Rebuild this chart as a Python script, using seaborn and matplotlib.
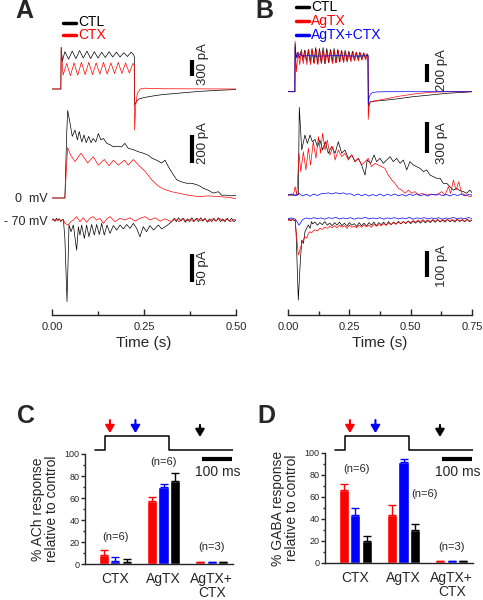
import numpy as np
import pandas as pd
import matplotlib
matplotlib.use("Agg")
import matplotlib.pyplot as plt
from matplotlib.lines import Line2D
import seaborn as sns

sns.set_style("ticks")
plt.rcParams['font.family'] = ['Liberation Sans', 'DejaVu Sans']
plt.rcParams['axes.linewidth'] = 1.0

RED, BLUE, BLACK = '#ff0000', '#0000ff', '#000000'
W, H = 483, 600

# ---------------- traces (time in s, current in pA) ----------------
# panel A, top row
a_top_ctl = [(0, 0), (0.024, 0), (0.025, 780), (0.028, 520), (0.035, 700), (0.045, 560), (0.055, 710),
             (0.065, 570), (0.075, 720), (0.085, 580), (0.095, 710), (0.105, 570), (0.115, 700),
             (0.125, 580), (0.135, 690), (0.145, 590), (0.155, 700), (0.165, 600), (0.175, 690),
             (0.185, 600), (0.195, 680), (0.205, 610), (0.215, 690), (0.222, 640), (0.2238, 600),
             (0.2245, -300), (0.228, -250), (0.235, -190), (0.250, -160), (0.275, -130), (0.300, -105),
             (0.350, -75), (0.400, -45), (0.450, -25), (0.500, -10)]
a_top_ctx = [(0, 0), (0.024, 0), (0.025, 780), (0.030, 260), (0.040, 480), (0.050, 250), (0.060, 490),
             (0.070, 260), (0.080, 500), (0.090, 270), (0.100, 500), (0.110, 270), (0.120, 490),
             (0.130, 280), (0.140, 500), (0.150, 280), (0.160, 490), (0.170, 290), (0.180, 500),
             (0.190, 290), (0.200, 490), (0.210, 300), (0.220, 480), (0.2235, 450), (0.2245, -770),
             (0.2275, -300), (0.232, -80), (0.240, 0), (0.250, 15), (0.300, 5), (0.500, 0)]
# panel A, 0 mV row
a_mid_ctl = [(0, 0), (0.035, 0), (0.040, 460), (0.0426, 625), (0.049, 535), (0.055, 440), (0.0625, 485),
             (0.069, 415), (0.074, 475), (0.081, 400), (0.087, 450), (0.093, 395), (0.0997, 440),
             (0.106, 395), (0.112, 425), (0.119, 400), (0.126, 460), (0.133, 415), (0.140, 425),
             (0.149, 390), (0.158, 380), (0.167, 365), (0.176, 370), (0.189, 365), (0.198, 390),
             (0.207, 355), (0.221, 345), (0.235, 330), (0.248, 320), (0.262, 305), (0.271, 285),
             (0.284, 270), (0.298, 250), (0.307, 270), (0.316, 225), (0.330, 165), (0.339, 130),
             (0.352, 115), (0.366, 105), (0.380, 105), (0.393, 95), (0.402, 85), (0.411, 70),
             (0.425, 55), (0.438, 35), (0.452, 45), (0.461, 20), (0.475, 20), (0.488, 15), (0.500, 20)]
a_mid_ctx = [(0, 0), (0.035, 0), (0.040, 250), (0.0426, 360), (0.050, 310), (0.0625, 260), (0.079, 320),
             (0.097, 250), (0.112, 295), (0.126, 235), (0.142, 275), (0.155, 230), (0.167, 270),
             (0.180, 235), (0.197, 270), (0.207, 235), (0.221, 275), (0.235, 235), (0.253, 190),
             (0.271, 130), (0.289, 85), (0.307, 60), (0.325, 45), (0.343, 35), (0.370, 20),
             (0.398, 10), (0.425, 15), (0.452, 10), (0.479, 5), (0.500, -5)]
# panel A, -70 mV row
a_bot_ctl = [(0, 0), (0.004, 2), (0.008, -2), (0.012, 3), (0.016, -1), (0.020, 2), (0.024, -3), (0.028, 1),
             (0.031, 0), (0.035, -33), (0.0408, -146), (0.0462, -9), (0.0516, -21), (0.058, -9),
             (0.067, -54), (0.0716, -12), (0.076, -27), (0.0806, -9), (0.088, -33), (0.094, -9),
             (0.1005, -30), (0.1078, -8), (0.115, -27), (0.1214, -8), (0.1286, -26), (0.135, -6),
             (0.142, -27), (0.1495, -9), (0.1576, -24), (0.1667, -10), (0.176, -18), (0.185, -9),
             (0.194, -16), (0.203, -8), (0.212, -15), (0.221, -6), (0.230, -15), (0.239, -30),
             (0.248, -12), (0.257, -21), (0.266, -10), (0.276, -18), (0.289, -9), (0.298, -16),
             (0.312, -10), (0.325, -3), (0.332, 3), (0.338, -3), (0.344, 4), (0.350, -2), (0.356, 3),
             (0.362, -4), (0.368, 2), (0.374, -3), (0.380, 4), (0.386, -2), (0.392, 3), (0.398, -3),
             (0.404, 4), (0.410, -2), (0.416, 3), (0.422, -4), (0.428, 2), (0.434, -3), (0.440, 3),
             (0.446, -2), (0.452, 4), (0.458, -3), (0.464, 2), (0.470, -3), (0.476, 3), (0.482, -2),
             (0.488, 3), (0.494, -3), (0.500, 0)]
a_bot_ctx = [(0, 1), (0.008, -2), (0.017, 2), (0.024, -1), (0.031, 1), (0.035, -6), (0.044, -9),
             (0.051, -3), (0.058, 0), (0.067, 6), (0.076, -3), (0.085, 4), (0.094, -4), (0.103, 3),
             (0.112, 6), (0.121, 0), (0.130, 3), (0.140, -6), (0.149, 2), (0.158, 6), (0.171, -3),
             (0.185, 3), (0.198, 0), (0.212, 4), (0.226, -2), (0.239, 3), (0.253, 6), (0.266, 0),
             (0.280, 4), (0.294, -2), (0.307, 2), (0.325, -3), (0.335, 2), (0.345, -3), (0.355, 3),
             (0.365, -2), (0.375, 2), (0.385, -3), (0.395, 3), (0.405, -1), (0.415, 2), (0.425, -3),
             (0.435, 2), (0.445, -2), (0.455, 3), (0.465, -2), (0.475, 2), (0.485, -3), (0.495, 1),
             (0.500, 0)]

# panel B, top row
b_top_ctl = [(0, 0), (0.028, 0), (0.029, 535), (0.033, 380), (0.040, 440), (0.046, 370), (0.053, 450),
             (0.060, 350), (0.068, 460), (0.075, 340), (0.083, 470), (0.090, 330), (0.098, 480),
             (0.105, 320), (0.113, 490), (0.120, 310), (0.128, 480), (0.135, 320), (0.143, 490),
             (0.150, 310), (0.158, 480), (0.165, 320), (0.173, 470), (0.180, 330), (0.188, 480),
             (0.195, 320), (0.203, 470), (0.210, 330), (0.218, 460), (0.225, 340), (0.233, 460),
             (0.240, 340), (0.248, 450), (0.255, 350), (0.263, 450), (0.270, 350), (0.278, 440),
             (0.285, 360), (0.293, 440), (0.300, 360), (0.308, 430), (0.315, 370), (0.322, 420),
             (0.326, 400), (0.328, -170), (0.334, -115), (0.350, -105), (0.375, -100), (0.410, -90),
             (0.443, -80), (0.511, -55), (0.579, -37), (0.647, -18), (0.715, -7), (0.750, 0)]
b_top_agtx = [(0, 0), (0.028, 0), (0.029, 560), (0.034, 220), (0.041, 440), (0.048, 300), (0.055, 470),
              (0.062, 310), (0.070, 460), (0.077, 300), (0.085, 470), (0.092, 300), (0.100, 460),
              (0.107, 310), (0.115, 470), (0.122, 300), (0.130, 460), (0.137, 310), (0.145, 470),
              (0.152, 310), (0.160, 460), (0.167, 320), (0.175, 460), (0.182, 310), (0.190, 450),
              (0.197, 320), (0.205, 460), (0.212, 330), (0.220, 450), (0.227, 320), (0.235, 450),
              (0.242, 330), (0.250, 440), (0.257, 330), (0.265, 450), (0.272, 340), (0.280, 440),
              (0.287, 340), (0.295, 430), (0.302, 350), (0.310, 430), (0.317, 350), (0.324, 420),
              (0.326, 400), (0.327, -307), (0.331, -150), (0.336, -111), (0.375, -92), (0.443, -55),
              (0.511, -26), (0.579, -7), (0.647, 0), (0.750, 0)]
b_top_both = [(0, 0), (0.028, 0), (0.029, 500), (0.034, 380), (0.045, 420), (0.060, 395), (0.080, 400),
              (0.120, 395), (0.200, 400), (0.280, 395), (0.326, 400), (0.327, -130), (0.331, -60),
              (0.337, -25), (0.345, -10), (0.360, -3), (0.400, 0), (0.750, 0)]
# panel B, 0 mV row
b_mid_ctl = [(0, 0), (0.042, 0), (0.046, 830), (0.056, 426), (0.069, 568), (0.079, 489), (0.090, 568),
             (0.099, 505), (0.110, 527), (0.120, 458), (0.130, 521), (0.141, 426), (0.152, 505),
             (0.164, 395), (0.178, 458), (0.192, 395), (0.205, 505), (0.219, 395), (0.232, 426),
             (0.246, 347), (0.260, 379), (0.273, 316), (0.287, 347), (0.300, 284), (0.314, 189),
             (0.323, 331), (0.337, 300), (0.351, 379), (0.361, 316), (0.375, 347), (0.389, 300),
             (0.402, 331), (0.416, 363), (0.429, 316), (0.443, 347), (0.457, 300), (0.470, 331),
             (0.484, 237), (0.497, 316), (0.511, 284), (0.525, 268), (0.538, 253), (0.552, 221),
             (0.565, 237), (0.579, 189), (0.592, 174), (0.606, 158), (0.620, 158), (0.633, 110),
             (0.647, 110), (0.660, 79), (0.674, 47), (0.688, 63), (0.701, 41), (0.715, 32),
             (0.728, 16), (0.742, 47), (0.750, 20)]
b_mid_agtx = [(0, 0), (0.022, 0), (0.029, 79), (0.036, 0), (0.045, 395), (0.052, 221), (0.0625, 410),
              (0.073, 237), (0.083, 442), (0.092, 284), (0.103, 505), (0.114, 347), (0.124, 552),
              (0.133, 395), (0.141, 584), (0.151, 426), (0.160, 521), (0.171, 379), (0.182, 458),
              (0.192, 331), (0.205, 426), (0.219, 363), (0.232, 395), (0.246, 331), (0.260, 379),
              (0.273, 316), (0.287, 347), (0.300, 284), (0.314, 316), (0.327, 347), (0.341, 268),
              (0.355, 300), (0.368, 284), (0.382, 268), (0.395, 253), (0.409, 189), (0.423, 142),
              (0.436, 110), (0.450, 63), (0.463, 47), (0.477, 16), (0.491, 47), (0.504, 16),
              (0.518, 32), (0.531, 0), (0.545, 16), (0.565, 0), (0.586, 6), (0.606, 0), (0.626, 32),
              (0.640, 0), (0.654, 79), (0.663, 16), (0.674, 142), (0.685, 47), (0.696, 126),
              (0.708, 16), (0.722, 0), (0.735, -9), (0.745, -16), (0.750, -5)]
b_mid_both = [0, 10, -8, 15, -10, 8, -12, 10, -5, 12, 15, 20, 10, 22, 12, 20, 8, 12, -5, 10,
              -8, 8, -10, 5, -8, 10, -10, 8, -5, 10, -8, 5, -10, 8, -5, 12, -8, 5, -10, 8,
              0, 10, -8, 5, -10, 8, -5, 8, -8, 5, 0]   # every 15 ms
# panel B, -70 mV row: onset part, then one value every 10 ms from 0.10 s
b_bot_ctl_on = [(0, 0), (0.006, 4), (0.012, -3), (0.018, 3), (0.024, -2), (0.029, 0), (0.033, -51),
                (0.042, -308), (0.049, -180), (0.056, -77), (0.063, -90), (0.069, -45), (0.076, -32),
                (0.083, -19), (0.090, -32), (0.096, -6)]
b_bot_ctl_rest = [-15, -8, -20, -10, -18, -6, -20, -12, -22, -10, -20, -8, -22, -12, -24, -10, -20, -14,
                  -25, -10, -22, -12, -24, -10, -20, -8, -22, -10, -18, -8, -20, -6, -18, -8, -16, -5,
                  -15, -6, -14, -4, -14, -5, -12, -3, -12, -2, -11, -2, -10, 0, -9, 1, -8, 0, -8, 2,
                  -7, 0, -8, 2, -6, 1, -7, 2, -6, 0]
b_bot_agtx_on = [(0, 0), (0.008, -3), (0.016, 4), (0.024, -2), (0.029, 0), (0.033, -40), (0.042, -135),
                 (0.049, -115), (0.056, -90), (0.063, -77), (0.069, -64), (0.076, -70), (0.083, -51),
                 (0.090, -45), (0.096, -50)]
b_bot_agtx_rest = [-45, -38, -42, -32, -36, -28, -32, -24, -30, -22, -30, -20, -28, -22, -32, -20, -28,
                   -24, -30, -20, -28, -18, -26, -20, -28, -16, -24, -18, -22, -14, -20, -12, -18, -10,
                   -16, -8, -14, -6, -12, -4, -10, -2, -8, 0, -8, 2, -6, 0, -6, 2, -5, 3, -6, 2, -4, 3,
                   -5, 2, -4, 3, -4, 2, -5, 3, -3, 0]
b_bot_both = [5, 8, 3, -20, 2, 8, 4, 9, 5, 8, 3, 9, 6, 10, 4, 8, 5, 9, 3, 8, 6, 10, 4, 8, 5, 9, 3, 8,
              6, 9, 4, 8, 5, 10, 3, 8, 6, 9, 4, 8, 5, 9, 3, 8, 6, 10, 4, 8, 5, 9, 6]   # every 15 ms

# ---------------- bar data (% of control) ----------------
conditions = ['CTX', 'AgTX', 'AgTX+\nCTX']
timepoints = ['early', 'middle', 'late']
ach_early = [8.5, 57.7, 1.5]
ach_middle = [3.0, 69.8, 1.5]
ach_late = [1.8, 75.8, 1.5]
ach_early_err = [4.0, 3.6, 0.3]
ach_middle_err = [3.3, 3.0, 0.3]
ach_late_err = [2.7, 6.7, 0.3]
gaba_early = [66.7, 43.9, 1.5]
gaba_middle = [43.9, 91.8, 1.5]
gaba_late = [20.3, 30.3, 1.5]
gaba_early_err = [5.2, 9.0, 0.3]
gaba_middle_err = [6.0, 3.0, 0.3]
gaba_late_err = [4.0, 5.2, 0.3]
n_labels = ['(n=6)', '(n=6)', '(n=3)']

# stimulus protocol (ms) and sampling arrows
step_t = [-35, 0, 0, 212, 212, 425]
step_level = [0, 0, 1, 1, 0, 0]
arrow_t = [15, 100, 315]


def fx(x):
    return x / W


def fy(y):
    return 1 - y / H


def unzip(pairs):
    return np.array([p[0] for p in pairs]), np.array([p[1] for p in pairs], dtype=float)


def join(on, rest, t0=0.10, dt=0.01):
    t, v = unzip(on)
    return np.concatenate([t, t0 + dt * np.arange(len(rest))]), np.concatenate([v, rest])


def grid(vals, t_end):
    return np.linspace(0, t_end, len(vals)), np.array(vals, dtype=float)


def draw(ax, tv, base, scale, color, lw=0.5):
    t, v = tv
    sns.lineplot(x=t, y=-base + v / scale, ax=ax, color=color, lw=lw,
                 estimator=None, sort=False)


def time_axis(ax, tmax, major, minor):
    ax.set_xlim(0, tmax)
    ax.set_ylim(-315, -35)
    ax.set_facecolor('none')
    sns.despine(ax=ax, left=True)
    ax.set_yticks([])
    ax.set_xticks(major)
    ax.set_xticklabels([f'{m:.2f}' for m in major])
    ax.set_xticks(minor, minor=True)
    ax.tick_params(axis='x', which='major', direction='in', length=4, width=1, labelsize=8, pad=5)
    ax.tick_params(axis='x', which='minor', direction='in', length=3, width=1)
    ax.set_xlabel('Time (s)', fontsize=11, labelpad=3)
    ax.set_ylabel('')


def scale_bar(ax, x, y0, length_px, label, lx, ly):
    ax.plot([x, x], [-y0, -y0 - length_px], color='k', lw=3, solid_capstyle='butt')
    ax.text(lx, -ly, label, rotation=90, ha='center', va='center', fontsize=9.5)


fig = plt.figure(figsize=(W / 100, H / 100), dpi=100)

# ---------------- panel A ----------------
axA = fig.add_axes([fx(52), fy(315), fx(236) - fx(52), (315 - 35) / H])
rowsA = [(89, 18.75), (198, 7.14), (220, 1.79)]
for (base, sc), (ctl, ctx) in zip(rowsA, [(a_top_ctl, a_top_ctx), (a_mid_ctl, a_mid_ctx),
                                          (a_bot_ctl, a_bot_ctx)]):
    draw(axA, unzip(ctl), base, sc, BLACK)
    draw(axA, unzip(ctx), base, sc, RED)
time_axis(axA, 0.5, [0, 0.25, 0.5], [0.125, 0.375])
scale_bar(axA, 0.38, 60, 300 / 18.75, '300 pA', 0.41, 64)
scale_bar(axA, 0.38, 135, 200 / 7.14, '200 pA', 0.41, 143)
scale_bar(axA, 0.38, 254, 50 / 1.79, '50 pA', 0.41, 268)
axA.text(-0.011, -199, '0  mV', ha='right', va='center', fontsize=9)
axA.text(-0.011, -222, '- 70 mV', ha='right', va='center', fontsize=9)

# ---------------- panel B ----------------
axB = fig.add_axes([fx(288), fy(315), fx(472) - fx(288), (315 - 35) / H])
draw(axB, unzip(b_top_ctl), 91.7, 11.1, BLACK)
draw(axB, unzip(b_top_agtx), 91.7, 11.1, RED)
draw(axB, unzip(b_top_both), 91.7, 11.1, BLUE)
draw(axB, unzip(b_mid_ctl), 195, 9.47, BLACK)
draw(axB, unzip(b_mid_agtx), 195, 9.47, RED)
draw(axB, grid(b_mid_both, 0.75), 195, 9.47, BLUE)
draw(axB, join(b_bot_ctl_on, b_bot_ctl_rest), 220, 3.85, BLACK)
draw(axB, join(b_bot_agtx_on, b_bot_agtx_rest), 220, 3.85, RED)
draw(axB, grid(b_bot_both, 0.75), 220, 3.85, BLUE)
time_axis(axB, 0.75, [0, 0.25, 0.5, 0.75], [0.125, 0.375, 0.625])
scale_bar(axB, 0.567, 63.5, 200 / 11.1, '200 pA', 0.628, 70)
scale_bar(axB, 0.567, 121.7, 300 / 9.47, '300 pA', 0.628, 143)
scale_bar(axB, 0.567, 250.7, 100 / 3.85, '100 pA', 0.628, 266)

# legends
for x0, entries in [(63, [('CTL', BLACK, 22.5), ('CTX', RED, 35)]),
                    (296, [('CTL', BLACK, 7), ('AgTX', RED, 21), ('AgTX+CTX', BLUE, 35)])]:
    for lab, col, y in entries:
        fig.add_artist(Line2D([fx(x0), fx(x0 + 13)], [fy(y), fy(y)], color=col, lw=2.5,
                              transform=fig.transFigure))
        fig.text(fx(x0 + 15), fy(y), lab, color=col, fontsize=10, ha='left', va='center')


# ---------------- panels C and D ----------------
def bar_panel(left, zero_px, means, errs, ylabel, n_pos):
    ax = fig.add_axes([fx(left), fy(zero_px), 148 / W, 110 / H])
    df = pd.DataFrame({
        'cond': conditions * 3,
        'time': np.repeat(timepoints, 3),
        'val': np.concatenate(means),
    })
    sns.barplot(data=df, x='cond', y='val', hue='time', order=conditions, hue_order=timepoints,
                palette=[RED, BLUE, BLACK], saturation=1, width=0.72, gap=0.12,
                errorbar=None, legend=False, ax=ax)
    for cont, err, col in zip(ax.containers, errs, [RED, BLUE, BLACK]):
        for bar, e in zip(cont, err):
            ax.errorbar(bar.get_x() + bar.get_width() / 2, bar.get_height(), yerr=[[0], [e]],
                        color=col, capsize=2.8, lw=1, capthick=1)
    ax.set_xlim(-0.63, 2.44)
    ax.set_ylim(0, 100)
    ax.set_yticks(range(0, 101, 20))
    ax.set_yticks(range(10, 100, 20), minor=True)
    ax.tick_params(axis='y', which='major', length=3, width=1, labelsize=6.5, pad=1)
    ax.tick_params(axis='y', which='minor', length=1.8, width=1)
    ax.tick_params(axis='x', length=0, labelsize=10, pad=6)
    for lbl in ax.get_xticklabels():
        lbl.set_linespacing(1.0)
    ax.set_xlabel('')
    ax.set_ylabel(ylabel, fontsize=10, linespacing=1.0)
    ax.yaxis.set_label_coords(-0.176, 0.5)
    sns.despine(ax=ax)
    for lab, (x, y) in zip(n_labels, n_pos):
        ax.text(x, y, lab, ha='center', va='center', fontsize=8)

    # stimulus protocol with sampling arrows and 100 ms bar
    pa = fig.add_axes([fx(left), fy(480), 148 / W, 70 / H])
    pa.set_xlim(-68, 425)
    pa.set_ylim(-30 / 14, 40 / 14)
    pa.axis('off')
    sns.lineplot(x=step_t, y=step_level, ax=pa, color='k', lw=1.1, estimator=None, sort=False)
    for t, col in zip(arrow_t, [RED, BLUE, BLACK]):
        tail, tip = (2.14, 1.21) if col != BLACK else (1.79, 0.93)
        pa.annotate('', xy=(t, tip), xytext=(t, tail),
                    arrowprops=dict(arrowstyle='-|>,head_length=0.5,head_width=0.3', lw=1.5,
                                    color=col, mutation_scale=9, shrinkA=0, shrinkB=0))
    pa.plot([323, 423], [-0.62, -0.62], color='k', lw=3, solid_capstyle='butt')
    pa.text(373, -1.55, '100 ms', ha='center', va='center', fontsize=10)
    return ax


bar_panel(85, 564, [ach_early, ach_middle, ach_late], [ach_early_err, ach_middle_err, ach_late_err],
          '% ACh response\nrelative to control', [(0, 24.5), (1, 92.7), (2, 15.5)])
bar_panel(325, 563, [gaba_early, gaba_middle, gaba_late],
          [gaba_early_err, gaba_middle_err, gaba_late_err],
          '% GABA response\nrelative to control', [(0.02, 85.5), (1.43, 62.7), (2.0, 14.5)])

# panel letters
for lab, x, y in [('A', 15, 11.5), ('B', 255, 11.5), ('C', 17, 416), ('D', 257, 416)]:
    fig.text(fx(x), fy(y), lab, fontsize=18, fontweight='bold', ha='left', va='center')

fig.savefig('out.png', dpi=100)
